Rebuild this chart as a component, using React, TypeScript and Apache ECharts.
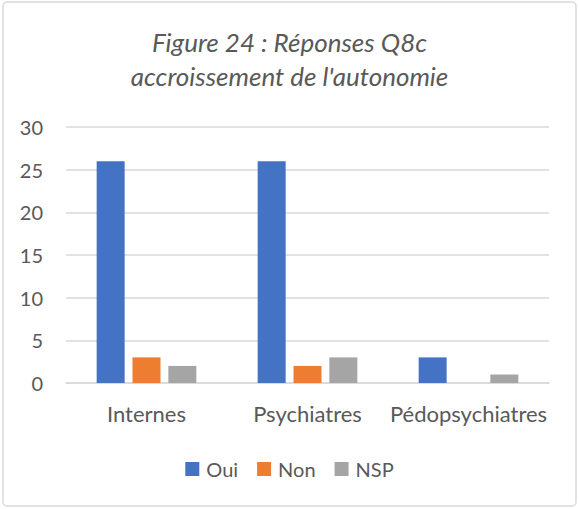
import React, { useEffect, useRef } from "react";
import * as echarts from "echarts";

const categories = ["Internes", "Psychiatres", "Pédopsychiatres"];
const oui = [26, 26, 3];
const non = [3, 2, 0];
const nsp = [2, 3, 1];
const titleLines = ["Figure 24 : Réponses Q8c", "accroissement de l'autonomie"];

const FONT = "Lato, 'Noto Sans', sans-serif";
const TXT = "#595959";

export default function App() {
  const ref = useRef<HTMLDivElement>(null);
  useEffect(() => {
    document.body.style.margin = "0";
    const chart = echarts.init(ref.current!, null, { renderer: "svg" });
    chart.setOption({
      animation: false,
      backgroundColor: "#ffffff",
      textStyle: { fontFamily: FONT },
      title: {
        text: titleLines.join("\n"),
        left: "center",
        top: 20,
        textStyle: {
          fontFamily: FONT,
          fontSize: 26,
          fontStyle: "italic",
          fontWeight: "normal",
          color: TXT,
          lineHeight: 34,
        },
      },
      graphic: [
        {
          type: "rect",
          shape: { x: 3, y: 2, width: 573, height: 504, r: 4 },
          style: { fill: "none", stroke: "#d9d9d9", lineWidth: 1.5 },
          silent: true,
        },
      ],
      legend: {
        top: 454,
        left: "center",
        itemWidth: 14,
        itemHeight: 14,
        itemGap: 19,
        icon: "rect",
        textStyle: { fontFamily: FONT, fontSize: 20, color: TXT, padding: [0, 0, 0, 2] },
        data: ["Oui", "Non", "NSP"],
      },
      grid: { left: 66, right: 30, top: 127, bottom: 126, containLabel: false },
      xAxis: {
        type: "category",
        data: categories,
        axisLine: { lineStyle: { color: "#d9d9d9", width: 1.5 } },
        axisTick: { show: false },
        axisLabel: { fontFamily: FONT, fontSize: 22, color: TXT, margin: 19, interval: 0 },
      },
      yAxis: {
        type: "value",
        min: 0,
        max: 30,
        interval: 5,
        axisLine: { show: false },
        axisTick: { show: false },
        splitLine: { lineStyle: { color: "#d9d9d9", width: 1.5 } },
        axisLabel: { fontFamily: FONT, fontSize: 20, color: TXT, margin: 23 },
      },
      series: [
        { name: "Oui", type: "bar", data: oui, barWidth: 28, barGap: "28%", itemStyle: { color: "#4472C4" } },
        { name: "Non", type: "bar", data: non, barWidth: 28, barGap: "28%", itemStyle: { color: "#ED7D31" } },
        { name: "NSP", type: "bar", data: nsp, barWidth: 28, barGap: "28%", itemStyle: { color: "#A5A5A5" } },
      ],
    });
    return () => chart.dispose();
  }, []);
  return <div ref={ref} style={{ width: 579, height: 509 }} />;
}
